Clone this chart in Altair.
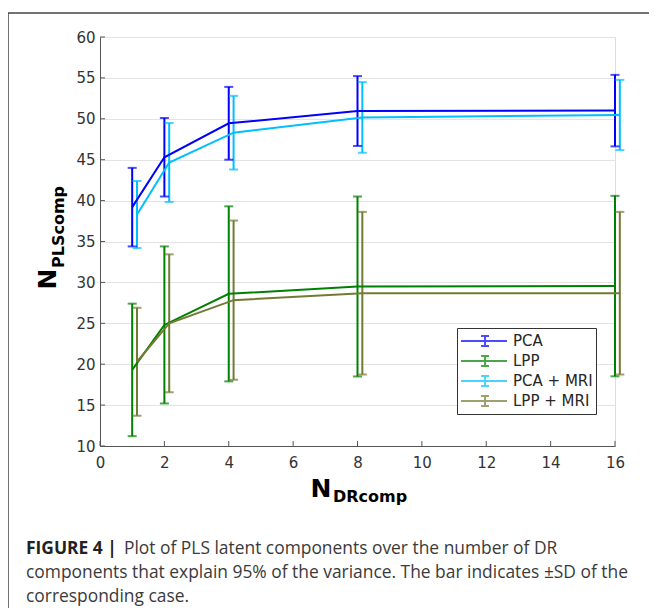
import altair as alt
import pandas as pd

# ---- data ----
x_vals = [1, 2, 4, 8, 16]
mri_shift = 0.15  # MRI series drawn slightly to the right, as in the figure
series_names = ["PCA", "LPP", "PCA + MRI", "LPP + MRI"]
series_colors = ["#0000ff", "#008000", "#00bfff", "#737a32"]

pca_mean = [39.2, 45.3, 49.45, 50.95, 51.0]
pca_sd = [4.8, 4.8, 4.45, 4.27, 4.37]
lpp_mean = [19.3, 24.8, 28.6, 29.5, 29.55]
lpp_sd = [8.1, 9.6, 10.7, 11.0, 11.03]
pcamri_mean = [38.3, 44.66, 48.3, 50.17, 50.47]
pcamri_sd = [4.1, 4.82, 4.5, 4.32, 4.29]
lppmri_mean = [20.3, 25.0, 27.83, 28.68, 28.68]
lppmri_sd = [6.6, 8.43, 9.73, 9.94, 9.94]

x_ticks = [0, 2, 4, 6, 8, 10, 12, 14, 16]
y_ticks = [10, 15, 20, 25, 30, 35, 40, 45, 50, 55, 60]

caption_bold = "FIGURE 4 |"
caption_1 = "Plot of PLS latent components over the number of DR"
caption_2 = "components that explain 95% of the variance. The bar indicates \u00b1SD of the"
caption_3 = "corresponding case."

rows = []
for name, means, sds, shift in [
    ("PCA", pca_mean, pca_sd, 0.0),
    ("LPP", lpp_mean, lpp_sd, 0.0),
    ("PCA + MRI", pcamri_mean, pcamri_sd, mri_shift),
    ("LPP + MRI", lppmri_mean, lppmri_sd, mri_shift),
]:
    for xv, m, s in zip(x_vals, means, sds):
        rows.append({"series": name, "x": xv + shift, "mean": m, "lo": m - s, "hi": m + s})
df = pd.DataFrame(rows)

W, H = 515, 409
FONT = "DejaVu Sans"

xscale = alt.Scale(domain=[0, 16], nice=False)
yscale = alt.Scale(domain=[10, 60], nice=False)

legend_path = "M-1,0H4.11M1.67,-0.56V0.56M1.23,-0.56H2.11M1.23,0.56H2.11"
color = alt.Color(
    "series:N",
    scale=alt.Scale(domain=series_names, range=series_colors),
    sort=series_names,
    legend=alt.Legend(
        title=None, orient="none", legendX=357, legendY=291,
        symbolType=legend_path, symbolSize=324, symbolStrokeWidth=2,
        symbolFillColor="transparent",
        labelFont=FONT, labelFontSize=15, labelColor="#262626", labelOffset=33,
        padding=3, rowPadding=0, strokeColor="#333333", fillColor="white",
        labelLimit=200,
    ),
)

base = alt.Chart(df)

lines = base.mark_line(strokeWidth=2, clip=False).encode(
    x=alt.X("x:Q", scale=xscale,
            axis=alt.Axis(values=x_ticks, title=None, grid=False, tickSize=0,
                          labelPadding=9, labelFontSize=15, labelFont=FONT,
                          labelColor="#333333", domainColor="#555555",
                          labelFlush=False)),
    y=alt.Y("mean:Q", scale=yscale,
            axis=alt.Axis(values=y_ticks, title=None, grid=True, gridColor="#e3e3e3",
                          tickSize=0, labelPadding=5, labelFontSize=15, labelFont=FONT,
                          labelColor="#333333", domainColor="#555555")),
    color=color,
)

bars = base.mark_rule(strokeWidth=2, clip=False).encode(
    x="x:Q", y="lo:Q", y2="hi:Q", color=color
)
caps_lo = base.mark_tick(orient="horizontal", size=9, thickness=2, clip=False).encode(
    x="x:Q", y="lo:Q", color=color
)
caps_hi = base.mark_tick(orient="horizontal", size=9, thickness=2, clip=False).encode(
    x="x:Q", y="hi:Q", color=color
)

# inward tick marks (MATLAB style)
ytick_df = pd.DataFrame({"v": y_ticks})
xtick_df = pd.DataFrame({"v": x_ticks})
yticks = alt.Chart(ytick_df).mark_rule(color="#555555", strokeWidth=1).encode(
    y=alt.Y("v:Q", scale=yscale), x=alt.value(0), x2=alt.value(5)
)
xticks = alt.Chart(xtick_df).mark_rule(color="#555555", strokeWidth=1).encode(
    x=alt.X("v:Q", scale=xscale), y=alt.value(H), y2=alt.value(H - 5)
)

one = pd.DataFrame({"k": [0]})


def txt(text, x, y, size, bold=False, angle=0, align="left", baseline="alphabetic",
        color="#000000", font=FONT):
    kw = dict(fontSize=size, font=font, color=color, align=align, baseline=baseline)
    if bold:
        kw["fontWeight"] = "bold"
    if angle:
        kw["angle"] = angle
    return alt.Chart(one).mark_text(**kw).encode(
        x=alt.value(x), y=alt.value(y), text=alt.value(text)
    )


titles = [
    txt("N", 221, 452, 25, bold=True, align="center", baseline="middle"),
    txt("DRcomp", 233, 460, 16, bold=True, align="left", baseline="middle"),
    txt("N", -52, 242, 25, bold=True, angle=270, align="center", baseline="middle"),
    txt("PLScomp", -41, 231, 16, bold=True, angle=270, align="left", baseline="middle"),
]

CAP_FONT = "Open Sans"
CAP_SIZE = 17.4
captions = [
    txt(caption_bold, -74, 517, CAP_SIZE, bold=True, color="#222222", font=CAP_FONT),
    txt(caption_1, 24, 517, CAP_SIZE, color="#3a3a3a", font=CAP_FONT),
    txt(caption_2, -74, 541, CAP_SIZE, color="#3a3a3a", font=CAP_FONT),
    txt(caption_3, -74, 565, CAP_SIZE, color="#3a3a3a", font=CAP_FONT),
]

border_top = alt.Chart(one).mark_rule(color="#444444", strokeWidth=1.5).encode(
    x=alt.value(-92), x2=alt.value(W + 34), y=alt.value(-24)
)
border_left = alt.Chart(one).mark_rule(color="#444444", strokeWidth=1.5).encode(
    x=alt.value(-92), y=alt.value(-24), y2=alt.value(H + 162)
)

chart = alt.layer(
    yticks, xticks, bars, caps_lo, caps_hi, lines,
    *titles, *captions, border_top, border_left,
).resolve_scale(color="shared").properties(
    width=W, height=H,
    autosize=alt.AutoSizeParams(type="none"),
    padding={"left": 92, "top": 29, "right": 34, "bottom": 162},
).configure_view(stroke=None).configure(background="white")

chart.save("out.html", embed_options={"renderer": "svg", "actions": False})
